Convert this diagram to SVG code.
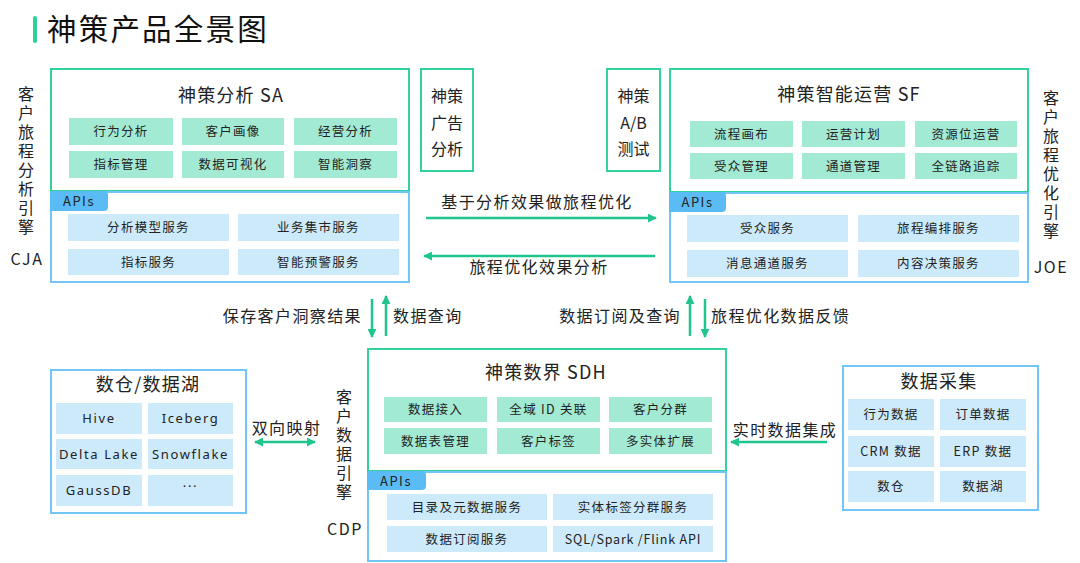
<svg xmlns="http://www.w3.org/2000/svg" width="1080" height="563" viewBox="0 0 1080 563">
<defs>
<style>
text{font-family:"Noto Sans CJK SC","Noto Sans",sans-serif;fill:#222;}
.gb{fill:none;stroke:#33d29c;stroke-width:2;}
.bb{fill:none;stroke:#72c5f5;stroke-width:2;}
.gc{fill:#a3ead4;}
.bc{fill:#cdeafb;}
.tab{fill:#5bbcf5;}
.tabt{font-size:13px;letter-spacing:1.5px;text-anchor:middle;}
.ct{font-size:12.5px;letter-spacing:1.3px;text-anchor:middle;}
.ht{font-size:18px;letter-spacing:1.2px;text-anchor:middle;}
.lt{font-size:16px;letter-spacing:1.4px;}
.vt{font-size:16px;text-anchor:middle;}
.vv{font-size:16px;writing-mode:vertical-rl;letter-spacing:3px;}
.lat{font-size:13px;letter-spacing:1.6px;text-anchor:middle;font-family:"Noto Sans","DejaVu Sans",sans-serif;}
.ar{stroke:#1fc58d;stroke-width:2.5;fill:none;}
</style>
<marker id="ah" viewBox="0 0 10 10" refX="9" refY="5" markerWidth="3.6" markerHeight="3.6" orient="auto-start-reverse" markerUnits="strokeWidth">
<path d="M0,0 L10,5 L0,10 Z" fill="#1fc58d"/>
</marker>
</defs>
<rect width="1080" height="563" fill="#fff"/>

<g id="title">
<rect x="33" y="16" width="4" height="27" rx="2" fill="#2ed09a"/>
<text x="47" y="40" style="font-size:29.5px;letter-spacing:2.2px;fill:#111;">神策产品全景图</text>
</g>

<g id="cja-label">
<text class="vv" x="26" y="86">客户旅程分析引擎</text>
<text class="vt" x="27" y="265" style="letter-spacing:1.5px;">CJA</text>
</g>

<g id="sa">
<rect class="gb" x="51" y="69" width="358" height="122"/>
<rect class="bb" x="51" y="192" width="358" height="90"/>
<text class="ht" x="231" y="102">神策分析 SA</text>
<rect class="gc" x="69" y="118" width="104" height="27"/><text class="ct" x="121" y="136">行为分析</text>
<rect class="gc" x="182" y="118" width="102" height="27"/><text class="ct" x="233" y="136">客户画像</text>
<rect class="gc" x="294" y="118" width="103" height="27"/><text class="ct" x="345.5" y="136">经营分析</text>
<rect class="gc" x="69" y="151" width="104" height="27"/><text class="ct" x="121" y="169">指标管理</text>
<rect class="gc" x="182" y="151" width="102" height="27"/><text class="ct" x="233" y="169">数据可视化</text>
<rect class="gc" x="294" y="151" width="103" height="27"/><text class="ct" x="345.5" y="169">智能洞察</text>
<path class="tab" d="M50,191 H104 A4,4 0 0 1 108,195 V207 A4,4 0 0 1 104,211 H50 Z"/>
<text class="tabt" x="79" y="206">APIs</text>
<rect class="bc" x="68" y="214" width="161" height="27"/><text class="ct" x="148.5" y="232">分析模型服务</text>
<rect class="bc" x="238" y="214" width="161" height="27"/><text class="ct" x="318.5" y="232">业务集市服务</text>
<rect class="bc" x="68" y="249" width="161" height="26"/><text class="ct" x="148.5" y="266.5">指标服务</text>
<rect class="bc" x="238" y="249" width="161" height="26"/><text class="ct" x="318.5" y="266.5">智能预警服务</text>
</g>

<g id="ad">
<rect class="gb" x="421" y="69" width="52" height="102"/>
<text class="vt" x="447" y="102"><tspan x="447">神策</tspan><tspan x="447" dy="26.5">广告</tspan><tspan x="447" dy="26.5">分析</tspan></text>
</g>

<g id="ab">
<rect class="gb" x="607" y="69" width="53" height="102"/>
<text class="vt" x="633.5" y="102"><tspan x="633.5">神策</tspan><tspan x="633.5" dy="26.5">A/B</tspan><tspan x="633.5" dy="26.5">测试</tspan></text>
</g>

<g id="sf">
<rect class="gb" x="670" y="69" width="358" height="123"/>
<rect class="bb" x="670" y="193" width="358" height="89"/>
<text class="ht" x="849" y="101">神策智能运营 SF</text>
<rect class="gc" x="690" y="121" width="103" height="26"/><text class="ct" x="741.5" y="138.5">流程画布</text>
<rect class="gc" x="802" y="121" width="103" height="26"/><text class="ct" x="853.5" y="138.5">运营计划</text>
<rect class="gc" x="915" y="121" width="102" height="26"/><text class="ct" x="966" y="138.5">资源位运营</text>
<rect class="gc" x="690" y="153" width="103" height="26"/><text class="ct" x="741.5" y="170.5">受众管理</text>
<rect class="gc" x="802" y="153" width="103" height="26"/><text class="ct" x="853.5" y="170.5">通道管理</text>
<rect class="gc" x="915" y="153" width="102" height="26"/><text class="ct" x="966" y="170.5">全链路追踪</text>
<path class="tab" d="M669,192 H722 A4,4 0 0 1 726,196 V208 A4,4 0 0 1 722,212 H669 Z"/>
<text class="tabt" x="697.5" y="207">APIs</text>
<rect class="bc" x="687" y="215" width="161" height="27"/><text class="ct" x="767.5" y="233">受众服务</text>
<rect class="bc" x="858" y="215" width="161" height="27"/><text class="ct" x="938.5" y="233">旅程编排服务</text>
<rect class="bc" x="687" y="250" width="161" height="27"/><text class="ct" x="767.5" y="268">消息通道服务</text>
<rect class="bc" x="858" y="250" width="161" height="27"/><text class="ct" x="938.5" y="268">内容决策服务</text>
</g>

<g id="joe-label">
<text class="vv" x="1051" y="90">客户旅程优化引擎</text>
<text class="vt" x="1051" y="273" style="letter-spacing:1.5px;">JOE</text>
</g>

<g id="lake">
<rect class="bb" x="51" y="370" width="195" height="143"/>
<text class="ht" x="148" y="391">数仓/数据湖</text>
<rect class="bc" x="56" y="403" width="86" height="31"/><text class="lat" x="99" y="423">Hive</text>
<rect class="bc" x="148" y="403" width="85" height="31"/><text class="lat" x="190.5" y="423">Iceberg</text>
<rect class="bc" x="56" y="439" width="86" height="30"/><text class="lat" x="99" y="458.5">Delta Lake</text>
<rect class="bc" x="148" y="439" width="85" height="30"/><text class="lat" x="190.5" y="458.5">Snowflake</text>
<rect class="bc" x="56" y="475" width="86" height="31"/><text class="lat" x="99" y="495">GaussDB</text>
<rect class="bc" x="148" y="475" width="85" height="31"/><text class="lat" x="190.5" y="491">···</text>
</g>

<g id="cdp-label">
<text class="vv" x="344" y="389">客户数据引擎</text>
<text class="vt" x="345" y="535" style="letter-spacing:1.5px;">CDP</text>
</g>

<g id="sdh">
<rect class="gb" x="368" y="349" width="358" height="122"/>
<rect class="bb" x="368" y="472" width="358" height="89"/>
<text class="ht" x="546" y="379">神策数界 SDH</text>
<rect class="gc" x="384" y="397" width="103" height="25"/><text class="ct" x="435.5" y="414">数据接入</text>
<rect class="gc" x="497" y="397" width="103" height="25"/><text class="ct" x="548.5" y="414">全域 ID 关联</text>
<rect class="gc" x="609" y="397" width="103" height="25"/><text class="ct" x="660.5" y="414">客户分群</text>
<rect class="gc" x="384" y="428" width="103" height="26"/><text class="ct" x="435.5" y="445.5">数据表管理</text>
<rect class="gc" x="497" y="428" width="103" height="26"/><text class="ct" x="548.5" y="445.5">客户标签</text>
<rect class="gc" x="609" y="428" width="103" height="26"/><text class="ct" x="660.5" y="445.5">多实体扩展</text>
<path class="tab" d="M367,471 H422 A4,4 0 0 1 426,475 V486 A4,4 0 0 1 422,490 H367 Z"/>
<text class="tabt" x="396" y="485.5">APIs</text>
<rect class="bc" x="387" y="494" width="160" height="26"/><text class="ct" x="467" y="511.5">目录及元数据服务</text>
<rect class="bc" x="553" y="494" width="160" height="26"/><text class="ct" x="633" y="511.5">实体标签分群服务</text>
<rect class="bc" x="387" y="526" width="160" height="26"/><text class="ct" x="467" y="543.5">数据订阅服务</text>
<rect class="bc" x="553" y="526" width="160" height="26"/><text class="ct" x="633" y="543.5" style="letter-spacing:0.8px;">SQL/Spark /Flink API</text>
</g>

<g id="collect">
<rect class="bb" x="843" y="366" width="195" height="144"/>
<text class="ht" x="939" y="388">数据采集</text>
<rect class="bc" x="848" y="399" width="86" height="31"/><text class="ct" x="891" y="419">行为数据</text>
<rect class="bc" x="940" y="399" width="86" height="31"/><text class="ct" x="983" y="419">订单数据</text>
<rect class="bc" x="848" y="436" width="86" height="31"/><text class="ct" x="891" y="456">CRM 数据</text>
<rect class="bc" x="940" y="436" width="86" height="31"/><text class="ct" x="983" y="456">ERP 数据</text>
<rect class="bc" x="848" y="471" width="86" height="31"/><text class="ct" x="891" y="491">数仓</text>
<rect class="bc" x="940" y="471" width="86" height="31"/><text class="ct" x="983" y="491">数据湖</text>
</g>

<g id="connectors">
<line class="ar" x1="426" y1="218" x2="656" y2="218" marker-end="url(#ah)"/>
<line class="ar" x1="655" y1="256" x2="424" y2="256" marker-end="url(#ah)"/>
<line class="ar" x1="372" y1="299" x2="372" y2="337" marker-end="url(#ah)"/>
<line class="ar" x1="386" y1="336" x2="386" y2="296" marker-end="url(#ah)"/>
<line class="ar" x1="690" y1="336" x2="690" y2="296" marker-end="url(#ah)"/>
<line class="ar" x1="705" y1="299" x2="705" y2="337" marker-end="url(#ah)"/>
<line class="ar" x1="255" y1="442" x2="315" y2="442" marker-start="url(#ah)" marker-end="url(#ah)"/>
<line class="ar" x1="827" y1="442" x2="731" y2="442" marker-end="url(#ah)"/>
<text class="lt" x="537" y="208" text-anchor="middle">基于分析效果做旅程优化</text>
<text class="lt" x="539" y="273" text-anchor="middle">旅程优化效果分析</text>
<text class="lt" x="362" y="322" text-anchor="end">保存客户洞察结果</text>
<text class="lt" x="393" y="322">数据查询</text>
<text class="lt" x="681" y="322" text-anchor="end">数据订阅及查询</text>
<text class="lt" x="711" y="322">旅程优化数据反馈</text>
<text class="lt" x="286.5" y="434" text-anchor="middle">双向映射</text>
<text class="lt" x="785" y="436" text-anchor="middle">实时数据集成</text>
</g>
</svg>
